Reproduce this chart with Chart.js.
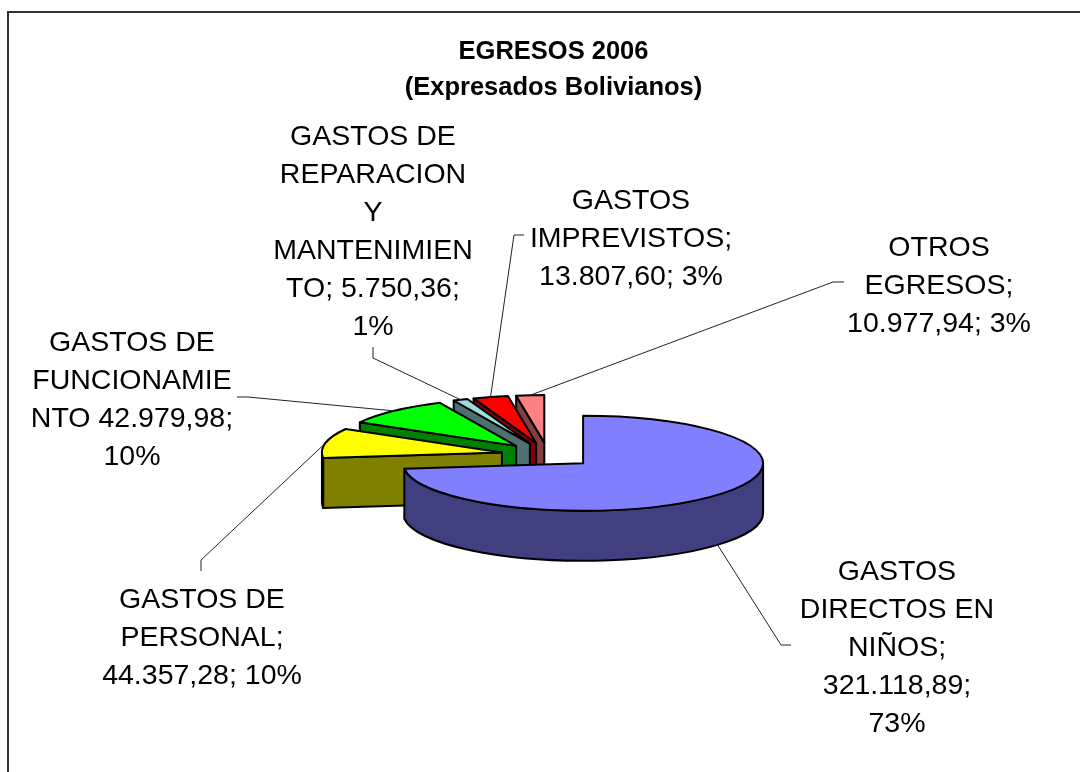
<!DOCTYPE html>
<html>
<head>
<meta charset="utf-8">
<title>EGRESOS 2006</title>
<script src="https://cdn.jsdelivr.net/npm/chart.js@4"></script>
<style>
  html, body { margin: 0; padding: 0; background: #fff; overflow: hidden; }
  canvas { display: block; }
</style>
</head>
<body>
<canvas id="chart" width="1080" height="772"></canvas>
<script>
const categories = [
  'GASTOS DIRECTOS EN NIÑOS',
  'GASTOS DE PERSONAL',
  'GASTOS DE FUNCIONAMIENTO',
  'GASTOS DE REPARACION Y MANTENIMIENTO',
  'GASTOS IMPREVISTOS',
  'OTROS EGRESOS'
];
const values = [321118.89, 44357.28, 42979.98, 5750.36, 13807.60, 10977.94];
const topColors = ['#8080FF', '#FFFF00', '#00FF00', '#99DDDD', '#FF0000', '#FF8080'];
const wallColors = ['#404080', '#808000', '#008000', '#4F7070', '#800000', '#804040'];
const titleLines = ['EGRESOS 2006', '(Expresados Bolivianos)'];

// etiquetas partidas igual que en la imagen
const labelLines = [
  ['GASTOS', 'DIRECTOS EN', 'NIÑOS;', '321.118,89;', '73%'],
  ['GASTOS DE', 'PERSONAL;', '44.357,28; 10%'],
  ['GASTOS DE', 'FUNCIONAMIE', 'NTO 42.979,98;', '10%'],
  ['GASTOS DE', 'REPARACION', 'Y', 'MANTENIMIEN', 'TO; 5.750,36;', '1%'],
  ['GASTOS', 'IMPREVISTOS;', '13.807,60; 3%'],
  ['OTROS', 'EGRESOS;', '10.977,94; 3%']
];
// centro x y primera linea base de cada etiqueta
const labelAnchors = [[897, 580], [202, 608], [132, 351], [373, 145], [631, 209], [939, 256]];
// codo y final de cada linea guia
const leaderEnds = [
  [[781, 645], [791, 645]],
  [[201, 560], [201, 571]],
  [[248, 397], [237, 397]],
  [[373, 358], [373, 347]],
  [[514, 235], [524, 235]],
  [[833, 282], [844, 282]]
];

const PIE_CX = 548, PIE_CY = 455;
const RADIUS = 180, SQUASH = 0.264, EXPLODE = 47, DEPTH = 50;
const LABEL_FONT = '28.5px "Liberation Sans", Arial, sans-serif';
const LINE_H = 38;

function sliceGeom(arc) {
  const { startAngle, endAngle } = arc.getProps(['startAngle', 'endAngle']);
  const mid = (startAngle + endAngle) / 2;
  return {
    s: startAngle,
    e: endAngle,
    mid,
    ax: PIE_CX + Math.cos(mid) * EXPLODE,
    ay: PIE_CY + Math.sin(mid) * EXPLODE * SQUASH
  };
}

function cutFace(ctx, g, a, color) {
  const x = g.ax + Math.cos(a) * RADIUS;
  const y = g.ay + Math.sin(a) * RADIUS * SQUASH;
  ctx.beginPath();
  ctx.moveTo(g.ax, g.ay);
  ctx.lineTo(x, y);
  ctx.lineTo(x, y + DEPTH);
  ctx.lineTo(g.ax, g.ay + DEPTH);
  ctx.closePath();
  ctx.fillStyle = color;
  ctx.fill();
  ctx.stroke();
}

const pie3d = {
  id: 'pie3d',
  // el pastel se dibuja aplastado, con pared y porciones separadas
  beforeDatasetsDraw(chart) {
    const ctx = chart.ctx;
    const arcs = chart.getDatasetMeta(0).data;
    ctx.save();
    ctx.lineWidth = 2;
    ctx.lineJoin = 'round';
    ctx.strokeStyle = '#000';
    for (let i = arcs.length - 1; i >= 0; i--) {
      const g = sliceGeom(arcs[i]);
      if (Math.cos(g.s) < -1e-6) cutFace(ctx, g, g.s, wallColors[i]);
      if (Math.cos(g.e) > 1e-6) cutFace(ctx, g, g.e, wallColors[i]);
      const lo = Math.max(g.s, 0), hi = Math.min(g.e, Math.PI);
      if (hi > lo) {
        ctx.beginPath();
        ctx.ellipse(g.ax, g.ay, RADIUS, RADIUS * SQUASH, 0, lo, hi);
        ctx.ellipse(g.ax, g.ay + DEPTH, RADIUS, RADIUS * SQUASH, 0, hi, lo, true);
        ctx.closePath();
        ctx.fillStyle = wallColors[i];
        ctx.fill();
        ctx.stroke();
      }
      ctx.beginPath();
      ctx.moveTo(g.ax, g.ay);
      ctx.ellipse(g.ax, g.ay, RADIUS, RADIUS * SQUASH, 0, g.s, g.e);
      ctx.closePath();
      ctx.fillStyle = arcs[i].options.backgroundColor;
      ctx.fill();
      ctx.stroke();
    }
    ctx.restore();
    return false;
  },
  afterDraw(chart) {
    const ctx = chart.ctx;
    const arcs = chart.getDatasetMeta(0).data;
    ctx.save();
    // marco: solo arriba e izquierda quedan dentro de la imagen
    ctx.strokeStyle = '#333';
    ctx.lineWidth = 2;
    ctx.beginPath();
    ctx.moveTo(8, 772);
    ctx.lineTo(8, 12);
    ctx.lineTo(1080, 12);
    ctx.stroke();

    ctx.strokeStyle = '#222';
    ctx.lineWidth = 1;
    arcs.forEach((arc, i) => {
      const g = sliceGeom(arc);
      const frontWall = Math.sin(g.mid) > 0 ? DEPTH : 0;
      ctx.beginPath();
      ctx.moveTo(g.ax + Math.cos(g.mid) * RADIUS,
                 g.ay + Math.sin(g.mid) * RADIUS * SQUASH + frontWall);
      leaderEnds[i].forEach(p => ctx.lineTo(p[0], p[1]));
      ctx.stroke();
    });

    ctx.fillStyle = '#000';
    ctx.font = LABEL_FONT;
    ctx.textAlign = 'center';
    ctx.textBaseline = 'alphabetic';
    labelLines.forEach((lines, i) => {
      lines.forEach((line, j) => {
        ctx.fillText(line, labelAnchors[i][0], labelAnchors[i][1] + j * LINE_H);
      });
    });
    ctx.restore();
  }
};

new Chart(document.getElementById('chart'), {
  type: 'pie',
  data: {
    labels: categories,
    datasets: [{ data: values, backgroundColor: topColors, borderWidth: 0 }]
  },
  plugins: [pie3d],
  options: {
    responsive: false,
    animation: false,
    radius: RADIUS,
    layout: { padding: { left: 27, top: 34 } },
    plugins: {
      legend: { display: false },
      tooltip: { enabled: false },
      title: {
        display: true,
        text: titleLines,
        color: '#000',
        padding: 0,
        font: { family: '"Liberation Sans", Arial, sans-serif', size: 25.5, weight: 'bold', lineHeight: 1.41 }
      }
    }
  }
});
</script>
</body>
</html>
